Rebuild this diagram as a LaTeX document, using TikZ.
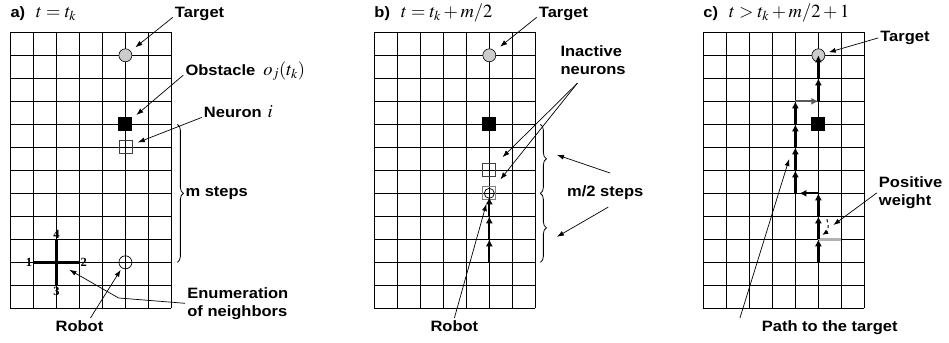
\documentclass[tikz,border=0pt]{standalone}
\usepackage{mathptmx}
\usepackage[no-math]{fontspec}
\setmainfont{Liberation Serif}
\newfontfamily\lblfont[FakeStretch=1.1]{Liberation Sans}
\newfontfamily\digfont{Liberation Serif}
\usetikzlibrary{arrows.meta, decorations.pathreplacing}
\newcommand{\mth}[1]{{\fontsize{18.5}{20}\selectfont$#1$}}

\begin{document}
\begin{tikzpicture}[x=23pt, y=23pt,
    gridln/.style={line width=1.3pt},
    target/.style={circle, draw, fill=gray!40, minimum size=13pt, inner sep=0pt, line width=0.6pt},
    obstacle/.style={fill=black, minimum size=14pt, inner sep=0pt},
    neuron/.style={draw=black!75, minimum size=13pt, inner sep=0pt, line width=0.7pt},
    robot/.style={circle, draw, minimum size=13pt, inner sep=0pt, line width=0.7pt},
    lbl/.style={font=\lblfont\bfseries\fontsize{15}{18}\selectfont, inner sep=2pt},
    dig/.style={font=\digfont\bfseries\fontsize{12.5}{13}\selectfont, inner sep=1pt},
    pointer/.style={-{Latex[length=7pt, width=5pt]}, line width=0.7pt},
    patharr/.style={-{Latex[length=7pt, width=7pt]}, line width=2.3pt},
    brc/.style={decorate, decoration={brace, amplitude=6pt}, line width=0.8pt}
  ]
  \useasboundingbox (0,0) rectangle (41.26,14.87);

  % a) t = t_k
  \begin{scope}[shift={(0.452,1.465)}]
    \foreach \i in {0,...,7} \draw[gridln] (\i,0) -- (\i,12);
    \foreach \j in {0,...,12} \draw[gridln] (0,\j) -- (7,\j);
    \node[target] (tgtA) at (5,11) {};
    \node[obstacle] (obsA) at (5,8) {};
    \node[neuron] (nrnA) at (5,7) {};
    \node[robot] (robA) at (5,2) {};
    \coordinate (nbrA) at (2,2);
    \draw[line width=2.5pt] (1,2) -- (3,2);
    \draw[line width=2.5pt] (2,1) -- (2,3);
    \node[dig, anchor=east] (nA1) at (1,2) {1};
    \node[dig, anchor=west] (nA2) at (3,2) {2};
    \node[dig, anchor=north, inner sep=2pt] (nA3) at (2,1) {3};
    \node[dig, anchor=south] (nA4) at (2,3) {4};
    \draw[brc] (7.26,8) -- (7.26,2);

    \node[lbl, anchor=base west] (tagA) at (-0.09,12.65) {a)\hspace{11pt}\mth{t=t_k}};
    \node[lbl, anchor=base west] (lblTgtA) at (7.06,12.65) {Target};
    \node[lbl, anchor=base west] (lblObsA) at (7.52,10.14) {Obstacle\hspace{8pt}\mth{o_j(t_k)}};
    \node[lbl, anchor=base west] (lblNrnA) at (8.32,8.30) {Neuron\hspace{6pt}\mth{i}};
    \node[lbl, anchor=base west] (lblStepA) at (7.52,4.85) {m steps};
    \node[lbl, anchor=north west, align=left] (lblEnum) at (7.6,1.01) {Enumeration\\of neighbors};
    \node[lbl, anchor=base west] (lblRobA) at (1.87,-0.99) {Robot};

    \coordinate (enumBend) at (4.70,0.45);
    \draw[pointer, shorten >=6pt] (lblTgtA.base west) -- (tgtA);
    \draw[pointer, shorten >=5pt] (lblObsA.base west) -- (obsA);
    \draw[pointer, shorten >=6pt] (lblNrnA.base west) -- (nrnA);
    \draw[pointer, shorten >=15pt] (lblEnum.west) -- (enumBend) -- (nbrA);
    \draw[pointer, shorten >=2pt] ([xshift=11pt]lblRobA.north) -- (robA);
  \end{scope}

  % b) t = t_k + m/2
  \begin{scope}[shift={(16.274,1.465)}]
    \foreach \i in {0,...,7} \draw[gridln] (\i,0) -- (\i,12);
    \foreach \j in {0,...,12} \draw[gridln] (0,\j) -- (7,\j);
    \node[target] (tgtB) at (5,11) {};
    \node[obstacle] (obsB) at (5,8) {};
    \node[neuron] (nrnB) at (5,6) {};
    \node[neuron, draw=gray] (robB) at (5,5) {};
    \node[robot, minimum size=10pt] (robBc) at (5,5) {};
    \draw[patharr] (5,2) -- (5,3);
    \draw[patharr] (5,3) -- (5,4);
    \draw[patharr, shorten >=4pt] (5,4) -- (5,5);
    \draw[brc] (7.22,8) -- (7.22,5);
    \draw[brc] (7.22,5) -- (7.22,2);

    \node[lbl, anchor=base west] (tagB) at (-0.09,12.65) {b)\hspace{11pt}\mth{t=t_k+m/2}};
    \node[lbl, anchor=base west] (lblTgtB) at (7.06,12.65) {Target};
    \node[lbl, anchor=north west, align=left] (lblInact) at (8.0,11.53) {Inactive\\neurons};
    \node[lbl, anchor=base west] (lblHalf) at (8.29,4.84) {m/2 steps};
    \node[lbl, anchor=base west] (lblRobB) at (2.35,-0.99) {Robot};

    \coordinate (inactTail) at (8.83,9.79);
    \coordinate (halfUp) at (10.26,5.88);
    \coordinate (halfDn) at (10.17,4.4);
    \coordinate (braceUp) at (7.94,6.67);
    \coordinate (braceDn) at (7.94,3.11);
    \draw[pointer, shorten >=7pt] (lblTgtB.base west) -- (tgtB);
    \draw[pointer, shorten >=9pt] (inactTail) -- (nrnB);
    \draw[pointer, shorten >=9pt] (inactTail) -- (robB);
    \draw[pointer] (halfUp) -- (braceUp);
    \draw[pointer] (halfDn) -- (braceDn);
    \draw[pointer, shorten >=4pt] (lblRobB.north) -- (robB);
  \end{scope}

  % c) t > t_k + m/2 + 1
  \begin{scope}[shift={(30.58,1.465)}]
    \foreach \i in {0,...,7} \draw[gridln] (\i,0) -- (\i,12);
    \foreach \j in {0,...,12} \draw[gridln] (0,\j) -- (7,\j);
    \node[target] (tgtC) at (5,11) {};
    \node[obstacle] (obsC) at (5,8) {};
    \draw[gray!60, line width=2.5pt] (5,3) -- (6,3);
    \draw[patharr] (5,2) -- (5,3);
    \draw[patharr] (5,3) -- (5,4);
    \draw[patharr] (5,4) -- (5,5);
    \draw[patharr, shorten >=4pt] (5,5) -- (4,5);
    \draw[patharr] (4,5) -- (4,6);
    \draw[patharr] (4,6) -- (4,7);
    \draw[patharr] (4,7) -- (4,8);
    \draw[patharr] (4,8) -- (4,9);
    \draw[patharr, draw=gray!70!black] (4,9) -- (5,9);
    \draw[patharr] (5,9) -- (5,10);
    \draw[patharr] (5,10) -- (5,11);
    \draw[dashed, line width=1pt, -{Latex[length=6pt, width=5pt]}] (5.37,3.87) to[bend left=40] (5.17,3.19);

    \node[lbl, anchor=base west] (tagC) at (-0.09,12.65) {c)\hspace{11pt}\mth{t>t_k+m/2+1}};
    \node[lbl, anchor=base west] (lblTgtC) at (7.6,11.6) {Target};
    \node[lbl, anchor=north west, align=left] (lblPos) at (7.54,5.81) {Positive\\weight};
    \node[lbl, anchor=base west] (lblPath) at (2.45,-0.99) {Path to the target};

    \coordinate (posTip) at (5.65,3.62);
    \coordinate (pathTail) at (1.59,-0.42);
    \coordinate (pathTip) at (3.73,6.49);
    \draw[pointer, shorten >=4pt] (lblTgtC.west) -- (tgtC);
    \draw[pointer] (lblPos.west) -- (posTip);
    \draw[pointer] (pathTail) -- (pathTip);
  \end{scope}
\end{tikzpicture}
\end{document}
